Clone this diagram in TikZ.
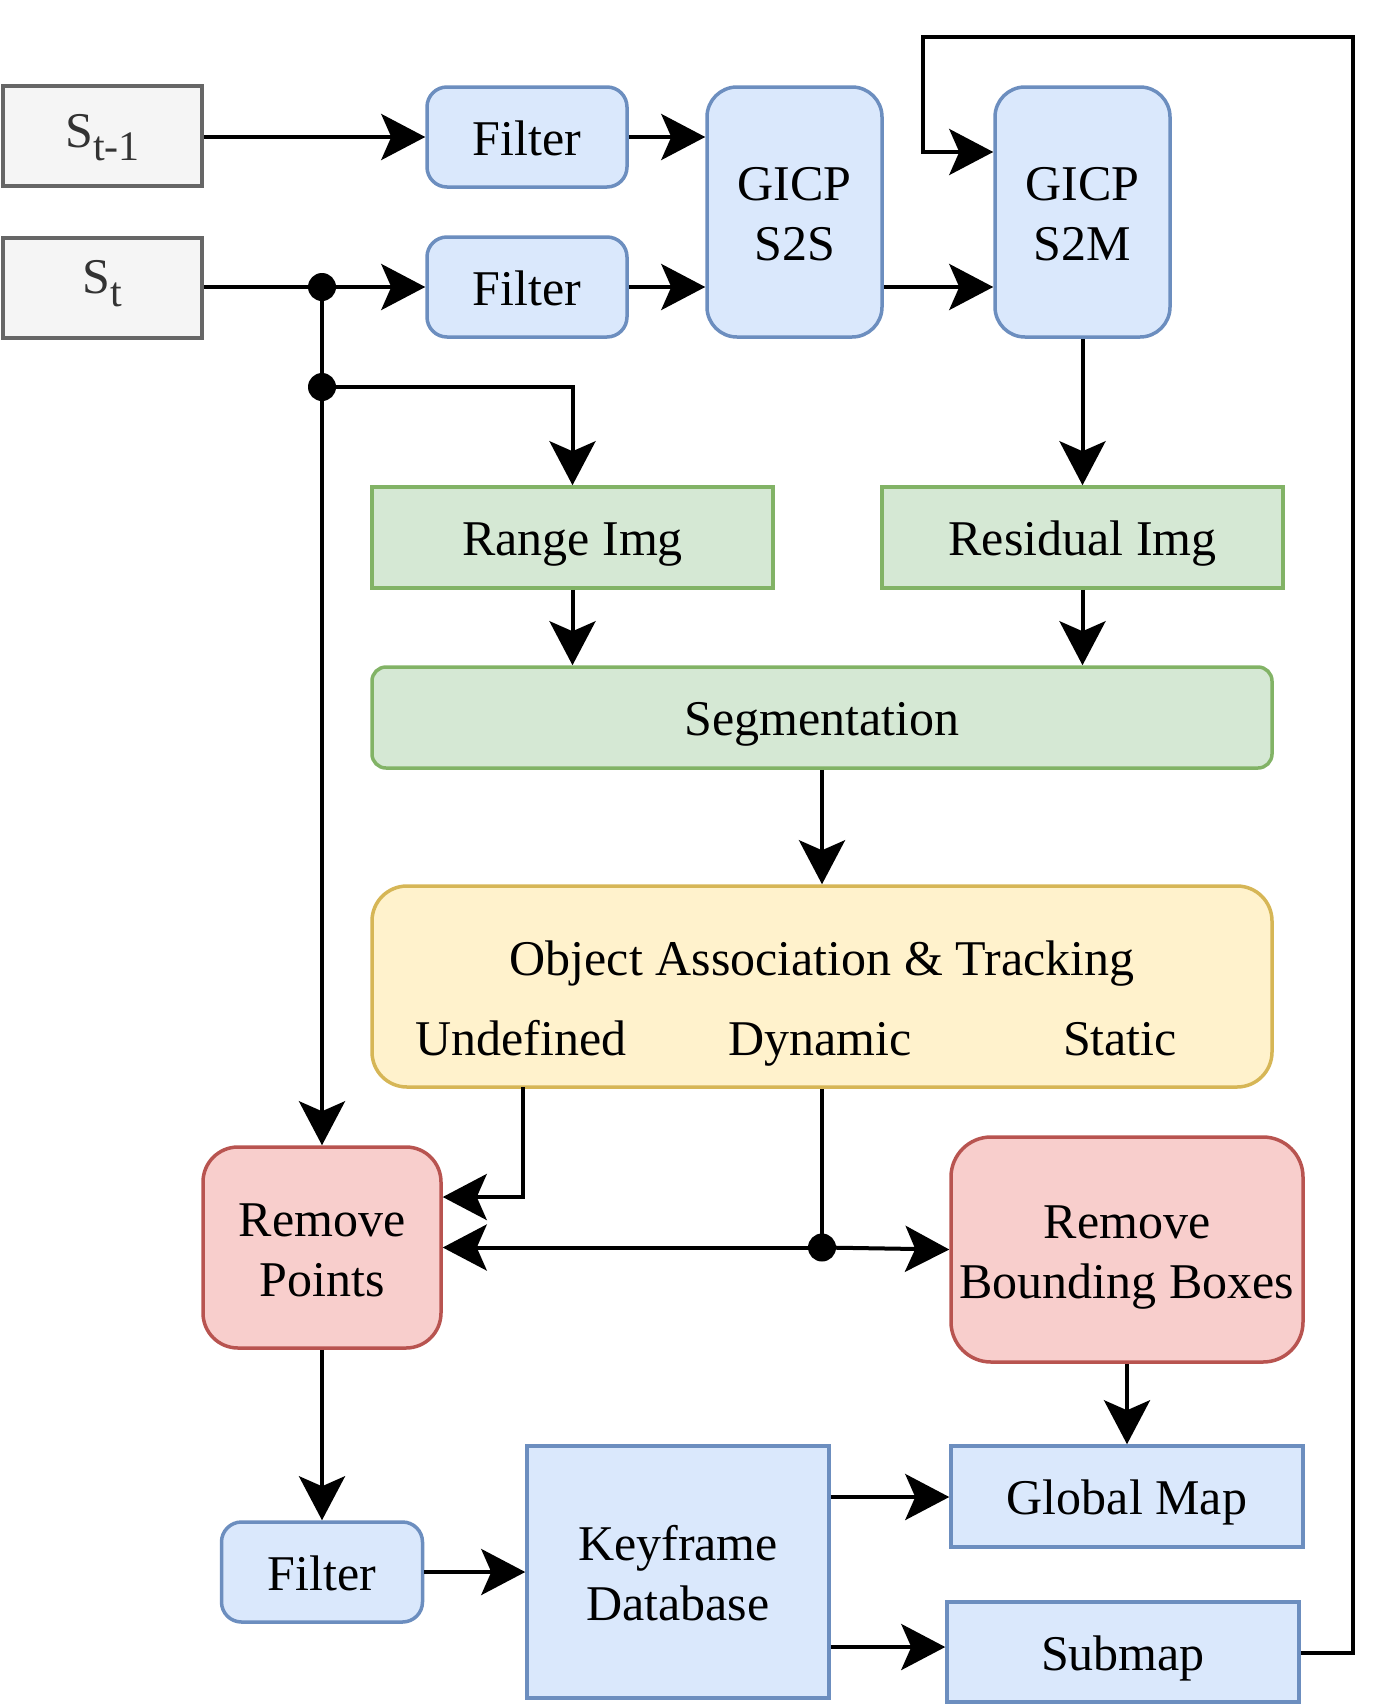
\documentclass[tikz,border=0pt]{standalone}
\usepackage{fontspec}
\setmainfont{Liberation Serif}
\usetikzlibrary{arrows.meta,calc}
\definecolor{bfill}{HTML}{DAE8FC}\definecolor{bline}{HTML}{6C8EBF}
\definecolor{gfill}{HTML}{D5E8D4}\definecolor{gline}{HTML}{82B366}
\definecolor{yfill}{HTML}{FFF2CC}\definecolor{yline}{HTML}{D6B656}
\definecolor{rfill}{HTML}{F8CECC}\definecolor{rline}{HTML}{B85450}
\definecolor{sfill}{HTML}{F5F5F5}\definecolor{sline}{HTML}{666666}
\definecolor{stext}{HTML}{333333}
\newcommand{\sub}[1]{\raisebox{-13pt}{\fontsize{42}{46}\selectfont #1}}
\begin{document}
\begin{tikzpicture}[x=1pt,y=-1pt,
  every node/.style={font=\fontsize{50}{60}\selectfont, inner sep=0pt, align=center},
  box/.style={draw, line width=3.5pt},
  one/.style={text height=36pt, text depth=0pt},
  two/.style={text height=97pt, text depth=0pt},
  bluebox/.style={box, fill=bfill, draw=bline},
  greenbox/.style={box, fill=gfill, draw=gline},
  yellowbox/.style={box, fill=yfill, draw=yline},
  redbox/.style={box, fill=rfill, draw=rline},
  sbox/.style={box, fill=sfill, draw=sline, text=stext},
  conn/.style={line width=4pt, -{Stealth[length=44pt, width=46pt, inset=10pt]}},
  plain/.style={line width=4pt},
  junc/.style={circle, fill=black, minimum size=28pt, inner sep=0pt}
]
\useasboundingbox (0,0) rectangle (1395,1705);

% nodes
\node[sbox, text height=35pt, text depth=13pt, minimum width=199pt, minimum height=100pt] (st1) at (102.5,136) {S\sub{t-1}};
\node[sbox, text height=35pt, text depth=25pt, minimum width=199pt, minimum height=100pt] (st) at (102.5,288) {S\sub{t}};
\node[bluebox, one, rounded corners=20pt, minimum width=200pt, minimum height=100pt] (f1) at (527,137) {Filter};
\node[bluebox, one, rounded corners=20pt, minimum width=200pt, minimum height=100pt] (f2) at (527,287) {Filter};
\node[bluebox, two, rounded corners=30pt, minimum width=175pt, minimum height=250pt] (s2s) at (794.5,212) {GICP\\S2S};
\node[bluebox, two, rounded corners=30pt, minimum width=175pt, minimum height=250pt] (s2m) at (1082.5,212) {GICP\\S2M};
\node[greenbox, one, minimum width=401pt, minimum height=101pt] (range) at (572.5,537.5) {Range Img};
\node[greenbox, one, minimum width=401pt, minimum height=101pt] (resid) at (1082.5,537.5) {Residual Img};
\node[greenbox, one, rounded corners=14pt, minimum width=900pt, minimum height=101pt] (seg) at (822,717.5) {Segmentation};
\node[yellowbox, rounded corners=35pt, minimum width=900pt, minimum height=201pt] (oat) at (822,986.5) {};
\node[anchor=base] (oattitle) at (822,975) {Object Association \& Tracking};
\node[anchor=base] (undef) at (521,1055) {Undefined};
\node[anchor=base] (dyn) at (820,1055) {Dynamic};
\node[anchor=base] (stat) at (1120,1055) {Static};
\node[redbox, two, rounded corners=35pt, minimum width=238pt, minimum height=201pt] (rp) at (322,1247.5) {Remove\\Points};
\node[redbox, two, rounded corners=40pt, minimum width=352pt, minimum height=225pt] (rbb) at (1127,1249.5) {Remove\\Bounding Boxes};
\node[bluebox, one, minimum width=352pt, minimum height=101pt] (gmap) at (1127,1496.5) {Global Map};
\node[bluebox, one, minimum width=352pt, minimum height=100pt] (submap) at (1123,1652) {Submap};
\node[bluebox, two, minimum width=302pt, minimum height=252pt] (kdb) at (678,1572) {Keyframe\\Database};
\node[bluebox, one, rounded corners=20pt, minimum width=201pt, minimum height=100pt] (f3) at (322,1572) {Filter};

% junctions
\node[junc] (j1) at (f2.west -| rp.north) {};
\node[junc] (j2) at (322,387) {};
\coordinate (dj) at (oat.south |- rp.east);
\node[junc] (j3) at (dj) {};
\coordinate (ud) at (523,1087);
\coordinate (udc) at (523,1197);
\coordinate (fbA) at (1353,1653);
\coordinate (fbB) at (1353,37);
\coordinate (fbC) at (923,37);
\coordinate (fbD) at (923,152);

% connectors
\draw[conn] (st1.east |- f1.west) -- (f1.west);
\draw[conn] (st.east |- f2.west) -- (f2.west);
\draw[conn] (f1.east) -- (f1.east -| s2s.west);
\draw[conn] (f2.east) -- (f2.east -| s2s.west);
\draw[conn] (s2s.east |- f2.east) -- (f2.east -| s2m.west);
\draw[conn] (submap.east |- fbA) -- (fbA) -- (fbB) -- (fbC) -- (fbD) -- (fbD -| s2m.west);
\draw[plain] (j1.center) -- (j2.center);
\draw[conn] (j2.center) -- (rp.north);
\draw[conn] (j2.center) -| (range.north);
\draw[conn] (s2m.south) -- (resid.north);
\draw[conn] (range.south) -- (range.south |- seg.north);
\draw[conn] (resid.south) -- (resid.south |- seg.north);
\draw[conn] (seg.south) -- (oat.north);
\draw[conn] (ud) -- (udc) -- (udc -| rp.east);
\draw[plain] (oat.south) -- (j3.center);
\draw[conn] (j3.center) -- (rp.east);
\draw[conn] (j3.center) -- (rbb.west);
\draw[conn] (rbb.south) -- (gmap.north);
\draw[conn] (rp.south) -- (f3.north);
\draw[conn] (f3.east) -- (f3.east -| kdb.west);
\draw[conn] (kdb.east |- 0,1497) -- (gmap.west |- 0,1497);
\draw[conn] (kdb.east |- 0,1647) -- (submap.west |- 0,1647);
\end{tikzpicture}
\end{document}
